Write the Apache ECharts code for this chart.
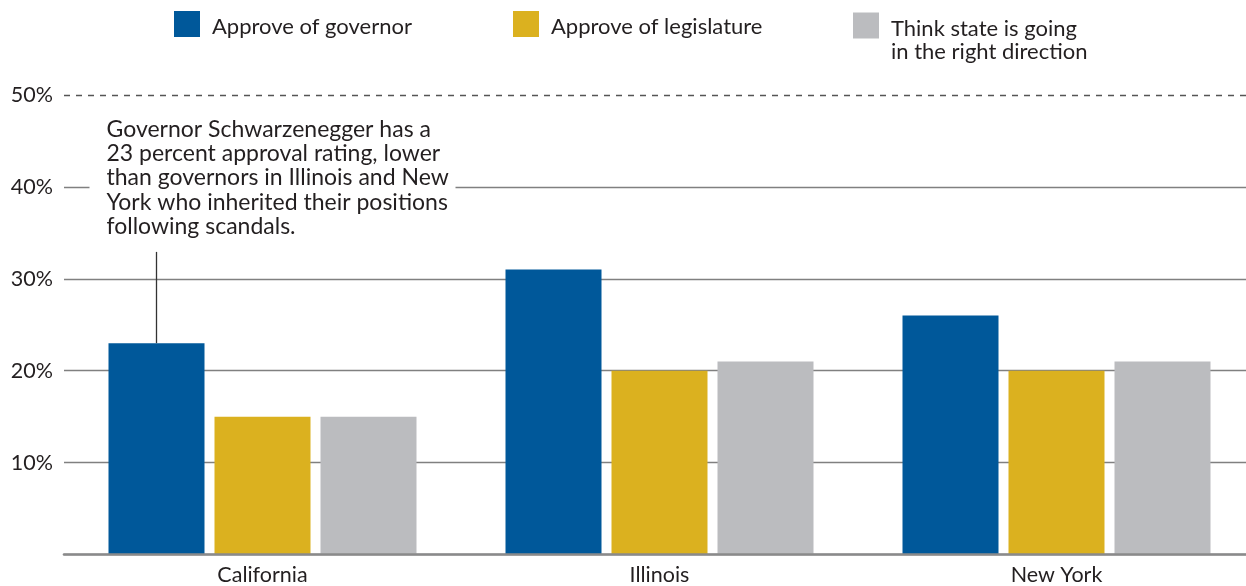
<!DOCTYPE html>
<html>
<head>
<meta charset="utf-8">
<script src="https://cdn.jsdelivr.net/npm/echarts@6/dist/echarts.min.js"></script>
<style>
  html, body { margin: 0; padding: 0; background: #fff; }
  #chart { width: 1246px; height: 586px; }
</style>
</head>
<body>
<div id="chart"></div>
<script>
// data
const states = ["California", "Illinois", "New York"];
const governorApproval = [23, 31, 26];
const legislatureApproval = [15, 20, 20];
const rightDirection = [15, 21, 21];
const seriesNames = ["Approve of governor", "Approve of legislature", "Think state is going\nin the right direction"];
const yTicks = [0, 10, 20, 30, 40, 50];
const annotatedPoint = ["California", 23];
const annotationLines = [
  "Governor Schwarzenegger has a",
  "23 percent approval rating, lower",
  "than governors in Illinois and New",
  "York who inherited their positions",
  "following scandals.",
];

const FONT = "Lato";
const FONT_SIZE = 21.5;
const TEXT_COLOR = "#231f20";
const colors = ["#00589a", "#dbb11f", "#bbbcbf"];
const BAR_W = 96;
const BAR_GAP = 10;
const LEGEND_LINE = 23;
const LEGEND_DROP = 6; // pushes legend text a little below the swatch centre

const chart = echarts.init(document.getElementById("chart"));

function legendFor(i, pos) {
  return Object.assign({
    data: [seriesNames[i]],
    padding: 0,
    icon: "rect",
    itemWidth: 26,
    itemHeight: 26,
    selectedMode: false,
    formatter: (name) => {
      const lines = name.split("\n");
      return "{s| }\n" + lines.map((l) => "{t|" + l + "}").join("\n");
    },
    textStyle: {
      padding: [0, 0, 0, 7],
      rich: {
        s: { fontSize: 4, lineHeight: LEGEND_DROP + LEGEND_LINE * (seriesNames[i].split("\n").length - 1) },
        t: { fontFamily: FONT, fontSize: 22, color: TEXT_COLOR, lineHeight: LEGEND_LINE },
      },
    },
  }, pos);
}

function barSeries(i, values) {
  return {
    name: seriesNames[i],
    type: "bar",
    data: values,
    barWidth: BAR_W,
    barGap: (BAR_GAP / BAR_W) * 100 + "%",
    itemStyle: { color: colors[i] },
  };
}

const option = {
  animation: false,
  color: colors,
  legend: [
    legendFor(0, { left: 174, top: 10.5 }),
    legendFor(1, { left: 513, top: 10.5 }),
    legendFor(2, { left: 853, bottom: 523.5 }),
  ],
  grid: {
    left: 64,
    width: 1191,
    top: 95,
    bottom: 31.5,
    outerBoundsMode: "none",
  },
  xAxis: {
    type: "category",
    data: states,
    z: 3,
    axisLine: { lineStyle: { color: "#8a8a8b", width: 2.6 } },
    axisTick: { show: false },
    axisLabel: {
      fontFamily: FONT,
      fontSize: FONT_SIZE,
      color: TEXT_COLOR,
      margin: 10,
    },
  },
  yAxis: {
    type: "value",
    min: yTicks[0],
    max: yTicks[yTicks.length - 1],
    interval: 10,
    axisLine: { show: false },
    axisTick: { show: false },
    axisLabel: {
      fontFamily: FONT,
      fontSize: FONT_SIZE,
      color: TEXT_COLOR,
      margin: 11,
      formatter: (v) => (v === 0 ? "" : v + "%"),
    },
    splitLine: {
      lineStyle: {
        width: 1.3,
        // the top line is drawn dashed by the markLine instead
        color: ["#808080", "#808080", "#808080", "#808080", "#808080", "rgba(0,0,0,0)"],
      },
    },
  },
  series: [
    Object.assign(barSeries(0, governorApproval), {
      markLine: {
        silent: true,
        symbol: "none",
        label: { show: false },
        lineStyle: { color: "#555", width: 1.3, type: [6, 6] },
        data: [{ yAxis: yTicks[yTicks.length - 1] }],
      },
    }),
    barSeries(1, legislatureApproval),
    barSeries(2, rightDirection),
    {
      name: "annotation",
      type: "custom",
      silent: true,
      z: 4,
      data: [annotatedPoint],
      renderItem: (params, api) => {
        const top = api.coord([api.value(0), api.value(1)]);
        const x = top[0] - (BAR_W + BAR_GAP);
        const y40 = api.coord([api.value(0), 40])[1];
        return {
          type: "group",
          children: [
            {
              type: "rect",
              shape: { x: x - 67, y: y40 - 70, width: 366, height: 135 },
              style: { fill: "#fff" },
            },
            {
              type: "line",
              shape: { x1: x, y1: y40 + 65, x2: x, y2: top[1] },
              style: { stroke: "#333", lineWidth: 1.3 },
            },
            {
              type: "text",
              x: x - 50,
              y: y40 - 9,
              style: {
                text: annotationLines.join("\n"),
                fontFamily: FONT,
                fontSize: 23,
                lineHeight: 24.4,
                fill: TEXT_COLOR,
                verticalAlign: "middle",
                align: "left",
              },
            },
          ],
        };
      },
    },
  ],
};

chart.setOption(option);
</script>
</body>
</html>
